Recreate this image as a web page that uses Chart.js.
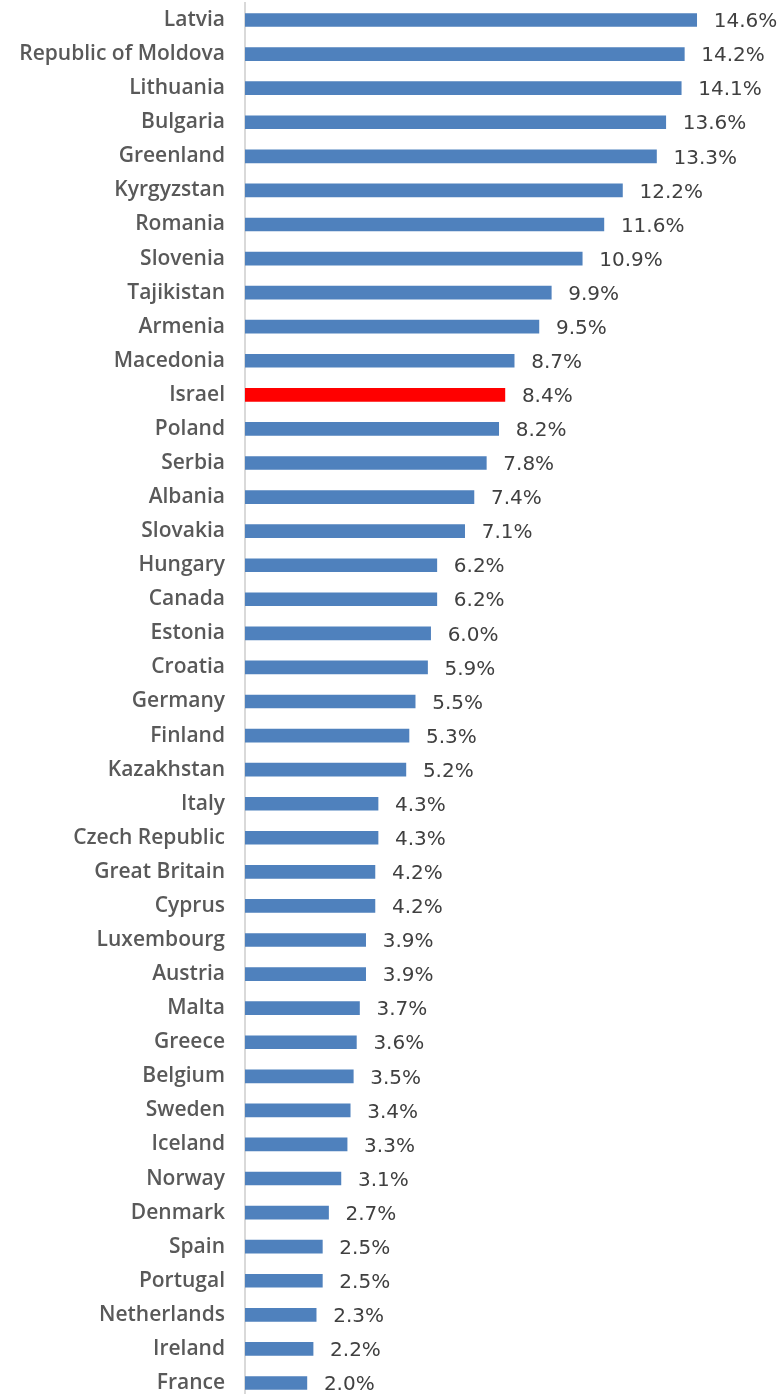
<!DOCTYPE html>
<html>
<head>
<meta charset="utf-8">
<script src="https://cdn.jsdelivr.net/npm/chart.js@4"></script>
<style>
  html, body { margin: 0; padding: 0; background: #fff; overflow: hidden; }
  #wrap { width: 782px; height: 1400px; position: relative; }
</style>
</head>
<body>
<div id="wrap"><canvas id="myChart"></canvas></div>
<script>
const countries = ["Latvia", "Republic of Moldova", "Lithuania", "Bulgaria", "Greenland", "Kyrgyzstan",
    "Romania", "Slovenia", "Tajikistan", "Armenia", "Macedonia", "Israel", "Poland", "Serbia", "Albania",
    "Slovakia", "Hungary", "Canada", "Estonia", "Croatia", "Germany", "Finland", "Kazakhstan", "Italy",
    "Czech Republic", "Great Britain", "Cyprus", "Luxembourg", "Austria", "Malta", "Greece", "Belgium",
    "Sweden", "Iceland", "Norway", "Denmark", "Spain", "Portugal", "Netherlands", "Ireland", "France"];
const values = [14.6, 14.2, 14.1, 13.6, 13.3, 12.2, 11.6, 10.9, 9.9, 9.5, 8.7, 8.4, 8.2, 7.8, 7.4,
    7.1, 6.2, 6.2, 6.0, 5.9, 5.5, 5.3, 5.2, 4.3, 4.3, 4.2, 4.2, 3.9, 3.9, 3.7, 3.6, 3.5,
    3.4, 3.3, 3.1, 2.7, 2.5, 2.5, 2.3, 2.2, 2.0];
const highlight = "Israel";

const barColors = countries.map(c => c === highlight ? "#FF0000" : "#4F81BD");

// draw the value labels to the right of each bar
const valueLabels = {
    id: "valueLabels",
    afterDatasetsDraw(chart) {
        const ctx = chart.ctx;
        const meta = chart.getDatasetMeta(0);
        ctx.save();
        ctx.fillStyle = "#404040";
        ctx.font = "20px 'DejaVu Sans', sans-serif";
        ctx.textAlign = "left";
        ctx.textBaseline = "middle";
        meta.data.forEach((bar, i) => {
            ctx.fillText(values[i].toFixed(1) + "%", bar.x + 17, bar.y + 2);
        });
        ctx.restore();
    }
};

const ctx = document.getElementById("myChart").getContext("2d");
const myChart = new Chart(ctx, {
    type: "bar",
    data: {
        labels: countries,
        datasets: [{
            data: values,
            backgroundColor: barColors,
            borderWidth: 0,
            barThickness: 13
        }]
    },
    options: {
        indexAxis: "y",
        responsive: true,
        maintainAspectRatio: false,
        animation: false,
        layout: { padding: { top: 3, right: 42, bottom: 0, left: 0 } },
        plugins: {
            legend: { display: false },
            tooltip: { enabled: false }
        },
        scales: {
            x: {
                min: 0,
                max: 16,
                display: false
            },
            y: {
                afterFit(scale) {
                    scale.width = 245;
                    scale.paddingTop = 0;
                    scale.paddingBottom = 0;
                },
                grid: { display: false, drawTicks: false },
                border: { display: true, color: "#D9D9D9", width: 2 },
                ticks: {
                    color: "#595959",
                    padding: 20,
                    font: { family: "'Open Sans', sans-serif", size: 21, weight: "600" }
                }
            }
        }
    },
    plugins: [valueLabels]
});
</script>
</body>
</html>
